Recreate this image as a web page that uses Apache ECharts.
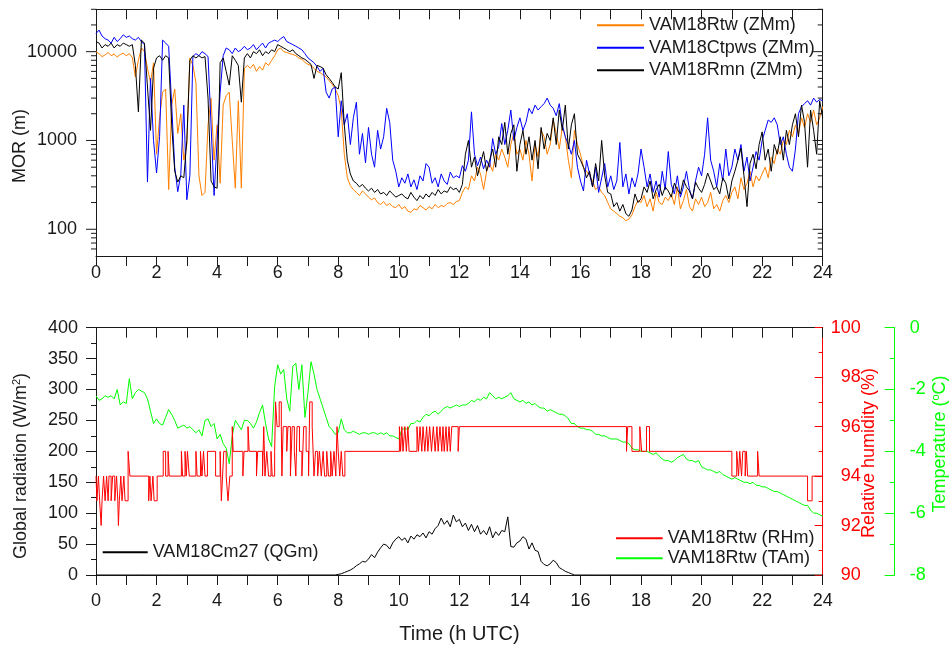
<!DOCTYPE html>
<html>
<head>
<meta charset="utf-8">
<script src="https://cdn.jsdelivr.net/npm/echarts@6/dist/echarts.min.js"></script>
<style>
html, body { margin: 0; padding: 0; background: #fff; }
#chart { width: 952px; height: 650px; }
</style>
</head>
<body>
<div id="chart"></div>
<script>
// Time stamps: one sample every 0.1 h over the day
const hours = Array.from({ length: 241 }, (_, i) => Math.round(i) / 10);

// Meteorological optical range (m), one row per hour
const morRtw = [
  10000, 9500, 8800, 9200, 9800, 9000, 9400, 8700, 9300, 9600,
  9000, 9500, 8600, 5200, 8000, 11000, 10000, 6500, 4500, 7500,
  700, 1800, 3500, 3800, 280, 2500, 3800, 1200, 2000, 600,
  900, 8500, 7000, 4500, 400, 240, 260, 1500, 3000, 600,
  1500, 330, 2500, 3200, 3500, 1000, 290, 2800, 290, 6500,
  7000, 6500, 7200, 6000, 6800, 6200, 7500, 7000, 8000, 9000,
  10500, 11000, 10000, 9800, 9500, 9300, 9000, 8500, 8200, 7600,
  7200, 7000, 6500, 6000, 5800, 5500, 5200, 4700, 4300, 3800,
  3200, 2200, 700, 380, 310, 280, 260, 240, 270, 250,
  230, 215, 225, 200, 190, 205, 185, 195, 180, 175,
  190, 170, 180, 160, 155, 170, 165, 185, 175, 165,
  180, 170, 190, 175, 185, 180, 195, 200, 190, 205,
  210, 260, 300, 280, 400, 350, 500, 420, 280, 450,
  550, 450, 700, 600, 800, 650, 500, 900, 1200, 700,
  800, 600, 1000, 700, 350, 900, 650, 1300, 1100, 700,
  900, 1700, 1200, 800, 1400, 1100, 600, 380, 1300, 900,
  700, 500, 450, 400, 350, 280, 300, 260, 240, 200,
  170, 160, 150, 140, 135, 125, 130, 145, 180, 210,
  200, 240, 180, 220, 160, 260, 200, 190, 230, 210,
  250, 190, 300, 170, 210, 280, 180, 160, 220, 190,
  230, 180, 200, 260, 170, 190, 160, 210, 240, 200,
  260, 300, 220, 380, 280, 330, 450, 300, 400, 350,
  420, 500, 380, 650, 550, 800, 700, 1000, 900, 1300,
  1100, 1500, 1200, 1800, 1400, 2000, 1600, 2200, 1500, 1800,
  2400
];

const morCtpws = [
  16000, 17500, 15000, 14000, 13500, 12500, 14500, 13000, 14000, 15500,
  14500, 15000, 14000, 13500, 14500, 13000, 12000, 340, 5000, 1000,
  430, 1100, 13500, 12500, 11500, 2500, 500, 265, 410, 2500,
  215, 400, 8800, 9500, 9000, 10000, 9500, 8800, 1500, 240,
  1000, 3500, 9000, 11000, 10500, 9500, 11000, 10000, 10500, 11500,
  10500, 11000, 12000, 10500, 11500, 12500, 11000, 12500, 13000, 13500,
  13000, 14000, 14800, 13000, 12500, 12000, 11500, 11000, 10500, 9500,
  8500, 8000, 7500, 6800, 6000, 6500, 3500, 3000, 3800, 4000,
  1100, 2800, 1500, 2000, 900, 1800, 2700, 700, 1200, 560,
  1400, 700, 500, 1300, 800, 1100, 2300, 1600, 600, 450,
  300, 380, 330, 420, 300, 360, 280, 400, 350, 550,
  500, 330, 380, 300, 420, 350, 320, 440, 380, 400,
  380, 520, 450, 600, 2100, 700, 520, 650, 480, 600,
  500, 1050, 700, 850, 1550, 900, 1300, 2200, 1000, 1400,
  1800, 1300, 1600, 2300, 2000, 2500, 2200, 2400, 2600, 3000,
  2500, 2300, 1900, 2600, 1500, 1100, 900, 700, 1000, 500,
  350, 270, 600, 420, 300, 500, 260, 380, 550, 300,
  400, 280, 350, 950, 300, 420, 250, 380, 300, 420,
  800, 500, 300, 420, 260, 350, 230, 450, 280, 750,
  320, 250, 400, 230, 300, 450, 280, 220, 350, 500,
  400, 700, 1800, 600, 450, 300, 550, 350, 800, 400,
  500, 800, 600, 900, 450, 650, 350, 500, 750, 600,
  1000, 1300, 1700, 1600, 1800, 1500, 900, 1100, 700, 500,
  450, 800, 2000, 2400, 2600, 2800, 2500, 3000, 2700, 2900,
  2800
];

const morRmn = [
  13000, 12500, 11000, 12000, 11500, 12500, 11000, 12000, 11500, 12500,
  12000, 11500, 12000, 7000, 2100, 13500, 12500, 4000, 1300, 6500,
  8500, 9000, 8000, 9000, 8500, 1500, 450, 340, 400, 380,
  1000, 8000, 9000, 8500, 9000, 8500, 8800, 3000, 350, 300,
  290, 7500, 8500, 6000, 4200, 9000, 8000, 7000, 2700, 8500,
  9500, 8500, 10000, 9500, 10500, 9000, 10000, 9500, 10500, 10000,
  12000, 11500, 11000, 10500, 10000, 10500, 9500, 9000, 8500, 8200,
  7700, 7200, 5000, 7000, 6800, 6500, 5500, 5000, 4500, 4000,
  3800, 5800, 1500, 600, 420, 350, 330, 300, 320, 290,
  270, 290, 260, 280, 250, 260, 240, 270, 250, 230,
  240, 250, 230, 220, 260, 230, 210, 240, 220, 250,
  230, 260, 240, 280, 250, 270, 260, 300, 280, 290,
  260, 320, 700, 1000, 500, 650, 400, 550, 750, 450,
  600, 800, 500, 1100, 900, 1600, 700, 1200, 1500, 450,
  900, 1300, 700, 1100, 600, 1000, 480, 1400, 800, 1200,
  1000, 1800, 900, 2200, 1300, 2500, 800, 1500, 2000, 700,
  600, 500, 380, 450, 300, 550, 350, 1000, 400, 260,
  250, 180, 200, 160, 190, 150, 140, 165, 250, 200,
  220, 300, 260, 350, 220, 280, 320, 240, 300, 270,
  230, 330, 280, 250, 360, 300, 270, 220, 340, 290,
  260, 320, 430, 350, 280, 300, 250, 380, 330, 220,
  350, 450, 600, 820, 400, 180, 550, 700, 480, 900,
  1250, 600, 800, 450, 900, 700, 1100, 600, 1300, 900,
  1500, 2000, 1100, 2500, 1600, 500, 2200, 1300, 700, 2800,
  1800
];

// Global radiation (W/m2)
const globalRad = [
  0, 0, 0, 0, 0, 0, 0, 0, 0, 0,
  0, 0, 0, 0, 0, 0, 0, 0, 0, 0,
  0, 0, 0, 0, 0, 0, 0, 0, 0, 0,
  0, 0, 0, 0, 0, 0, 0, 0, 0, 0,
  0, 0, 0, 0, 0, 0, 0, 0, 0, 0,
  0, 0, 0, 0, 0, 0, 0, 0, 0, 0,
  0, 0, 0, 0, 0, 0, 0, 0, 0, 0,
  0, 0, 0, 0, 0, 0, 0, 0, 0, 0,
  1, 2, 4, 6, 8, 11, 15, 18, 22, 21,
  26, 33, 28, 37, 44, 50, 48, 42, 52, 58,
  62, 56, 60, 52, 63, 58, 65, 62, 68, 60,
  70, 66, 75, 80, 92, 82, 88, 78, 97, 86,
  90, 78, 84, 72, 82, 70, 80, 66, 72, 65,
  78, 60, 70, 64, 72, 70, 94, 46, 45, 52,
  55, 62, 58, 42, 52, 40, 38, 22, 17, 15,
  18, 24, 20, 12, 9, 6, 4, 2, 0, 0,
  0, 0, 0, 0, 0, 0, 0, 0, 0, 0,
  0, 0, 0, 0, 0, 0, 0, 0, 0, 0,
  0, 0, 0, 0, 0, 0, 0, 0, 0, 0,
  0, 0, 0, 0, 0, 0, 0, 0, 0, 0,
  0, 0, 0, 0, 0, 0, 0, 0, 0, 0,
  0, 0, 0, 0, 0, 0, 0, 0, 0, 0,
  0, 0, 0, 0, 0, 0, 0, 0, 0, 0,
  0, 0, 0, 0, 0, 0, 0, 0, 0, 0,
  0
];

// Air temperature (degC)
const airTemp = [
  -2.2, -2.35, -2.3, -2.2, -2.25, -2.2, -2.3, -2.0, -2.5, -2.4,
  -2.45, -1.65, -2.3, -2.1, -2.0, -2.05, -2.1, -2.3, -2.7, -3.1,
  -2.95, -3.1, -3.15, -2.9, -2.65, -2.8, -3.0, -3.25, -3.2, -3.15,
  -3.25, -3.2, -3.3, -3.4, -3.3, -3.5, -3.0, -2.95, -3.2, -3.1,
  -3.6, -3.45, -3.75, -3.9, -4.4, -3.5, -3.0, -3.15, -3.3, -3.0,
  -3.0, -3.1, -3.25, -3.05, -2.75, -2.5, -3.1, -3.6, -3.85, -1.9,
  -1.2, -1.5, -1.35, -2.3, -2.7, -1.25, -1.15, -2.0, -1.2, -2.9,
  -2.1, -1.1, -1.5, -2.0, -2.3, -2.6, -2.9, -3.2, -3.3, -3.45,
  -3.4, -2.95, -3.3, -3.4, -3.4, -3.35, -3.4, -3.45, -3.4, -3.4,
  -3.45, -3.4, -3.4, -3.45, -3.4, -3.45, -3.4, -3.5, -3.5, -3.55,
  -3.6, -3.3, -3.25, -3.3, -3.1, -3.1, -3.0, -3.05, -2.9, -2.8,
  -2.85, -2.75, -2.7, -2.8, -2.7, -2.6, -2.55, -2.6, -2.55, -2.5,
  -2.55, -2.5, -2.5, -2.45, -2.35, -2.4, -2.3, -2.35, -2.25, -2.3,
  -2.1, -2.2, -2.3, -2.25, -2.3, -2.25, -2.2, -2.1, -2.3, -2.35,
  -2.4, -2.35, -2.45, -2.4, -2.5, -2.45, -2.55, -2.6, -2.6, -2.7,
  -2.65, -2.7, -2.75, -2.8, -2.8, -2.85, -2.95, -3.1, -3.1, -3.2,
  -3.25, -3.25, -3.3, -3.3, -3.35, -3.45, -3.45, -3.5, -3.5, -3.55,
  -3.6, -3.6, -3.6, -3.65, -3.7, -3.7, -3.75, -3.9, -3.95, -3.95,
  -4.0, -4.0, -4.0, -4.05, -4.1, -4.05, -4.15, -4.25, -4.3, -4.3,
  -4.35, -4.3, -4.2, -4.15, -4.1, -4.25, -4.3, -4.3, -4.35, -4.3,
  -4.5, -4.55, -4.6, -4.6, -4.65, -4.7, -4.65, -4.75, -4.8, -4.85,
  -4.9, -4.85, -4.9, -4.95, -5.0, -5.0, -5.05, -5.0, -5.1, -5.1,
  -5.15, -5.15, -5.2, -5.25, -5.3, -5.3, -5.35, -5.4, -5.45, -5.5,
  -5.55, -5.6, -5.65, -5.7, -5.75, -5.75, -5.9, -6.0, -6.0, -6.05,
  -6.1
];

// Relative humidity (%), as [time of change, new value]
const rhChanges = [
  [0.00, 94], [0.03, 93], [0.08, 94], [0.12, 93], [0.17, 92], [0.20, 93], [0.25, 94], [0.30, 93],
  [0.35, 94], [0.40, 93], [0.43, 94], [0.50, 93], [0.55, 94], [0.62, 93], [0.68, 94], [0.72, 93],
  [0.74, 92], [0.77, 93], [0.82, 94], [0.86, 93], [0.92, 94], [0.96, 93], [1.06, 95], [1.12, 94],
  [1.74, 93], [1.78, 94], [1.82, 93], [1.88, 94], [1.92, 93], [2.02, 94], [2.22, 95], [2.30, 94],
  [2.38, 95], [2.42, 94], [2.82, 95], [2.86, 94], [2.94, 95], [2.98, 94], [3.02, 95], [3.08, 94],
  [3.30, 95], [3.34, 94], [3.45, 95], [3.50, 94], [3.55, 95], [3.60, 94], [3.68, 95], [3.95, 94],
  [4.10, 95], [4.14, 93], [4.18, 94], [4.22, 95], [4.30, 94], [4.36, 93], [4.42, 94], [4.50, 96],
  [4.53, 95], [4.85, 94], [4.89, 95], [5.02, 96], [5.06, 95], [5.30, 94], [5.34, 95], [5.50, 94],
  [5.54, 96], [5.58, 94], [5.64, 95], [5.70, 94], [5.78, 95], [5.82, 94], [5.90, 95], [5.93, 97],
  [5.98, 96], [6.05, 97], [6.12, 96], [6.14, 94], [6.18, 96], [6.30, 95], [6.34, 96], [6.42, 94],
  [6.48, 96], [6.55, 95], [6.60, 94], [6.64, 96], [6.72, 95], [6.80, 94], [6.86, 96], [6.94, 95],
  [7.02, 94], [7.06, 97], [7.14, 96], [7.20, 94], [7.25, 95], [7.32, 94], [7.38, 95], [7.44, 94],
  [7.50, 95], [7.55, 94], [7.62, 95], [7.68, 94], [7.75, 95], [7.80, 94], [7.86, 95], [7.92, 94],
  [7.96, 96], [8.00, 95], [8.05, 94], [8.10, 95], [8.15, 94], [8.22, 95], [10.02, 96], [10.06, 95],
  [10.10, 96], [10.14, 95], [10.20, 96], [10.25, 95], [10.30, 96], [10.34, 95], [10.60, 96], [10.65, 95],
  [10.70, 96], [10.76, 95], [10.80, 96], [10.86, 95], [10.92, 96], [10.96, 95], [11.02, 96], [11.08, 95],
  [11.14, 96], [11.20, 95], [11.26, 96], [11.30, 95], [11.36, 96], [11.42, 95], [11.46, 96], [11.50, 95],
  [11.56, 96], [11.60, 95], [11.66, 96], [11.70, 95], [11.75, 96], [11.96, 95], [12.00, 96], [17.52, 95],
  [17.56, 96], [17.70, 95], [17.96, 96], [18.02, 95], [18.18, 96], [18.28, 95], [21.00, 94], [21.16, 95],
  [21.22, 94], [21.26, 95], [21.32, 94], [21.36, 95], [21.44, 94], [21.48, 95], [21.52, 94], [21.85, 95],
  [21.90, 94], [23.50, 93], [23.65, 94], [24.00, 94]
];

// Tick marks of the logarithmic MOR axis
const morMajorTicks = [100, 1000, 10000];
const morMinorTicks = [60, 70, 80, 90, 200, 300, 400, 500, 600, 700, 800, 900,
  2000, 3000, 4000, 5000, 6000, 7000, 8000, 9000, 20000, 30000];

const FONT = '"Liberation Sans", Arial, Helvetica, sans-serif';
const INK = '#1a1a1a';
const RED = '#ff0000';
const GREEN = '#00ff00';

const withTime = vals => vals.map((v, i) => [hours[i], v]);

const lineSt = { color: INK, width: 1 };
const labelBase = { fontSize: 18, fontFamily: FONT, color: INK };

function timeAxis(grid, pos, showLabels, margin) {
  return {
    gridIndex: grid, type: 'value', position: pos, min: 0, max: 24, interval: 1,
    axisLine: { show: true, onZero: false, lineStyle: lineSt },
    axisTick: { show: true, inside: pos === 'top', length: 10, lineStyle: lineSt },
    axisLabel: Object.assign({ show: showLabels, margin: margin,
      formatter: v => (v % 2 === 0 ? String(v) : '') }, labelBase),
    splitLine: { show: false }
  };
}

// Legend entries show only the line sample, no marker
function legendBlock(names, left, top, itemWidth, itemGap) {
  return {
    data: names, orient: 'vertical', left: left, top: top, padding: 0, itemGap: itemGap,
    itemWidth: itemWidth, itemHeight: 20, selectedMode: false,
    itemStyle: { opacity: 0 },
    textStyle: { fontSize: 18, lineHeight: 20, fontFamily: FONT, color: INK }
  };
}

const chart = echarts.init(document.getElementById('chart'), null, { renderer: 'canvas' });

const option = {
  backgroundColor: '#ffffff',
  animation: false,
  textStyle: { fontFamily: FONT },
  grid: [
    { left: 96, top: 9.3, width: 726.7, height: 246.7, containLabel: false },
    { left: 96, top: 327.7, width: 726.7, height: 247.3, containLabel: false }
  ],
  xAxis: [
    timeAxis(0, 'bottom', true, 8),
    timeAxis(0, 'top', false, 8),
    timeAxis(1, 'bottom', true, 17),
    timeAxis(1, 'top', false, 8)
  ],
  yAxis: [
    {
      gridIndex: 0, type: 'log', logBase: 10, min: 50, max: 30000, position: 'left',
      axisLine: { show: true, onZero: false, lineStyle: lineSt },
      axisTick: { show: false },
      axisLabel: Object.assign({ margin: 19, showMinLabel: false, showMaxLabel: false,
        formatter: v => String(Math.round(v)) }, labelBase),
      splitLine: { show: false }
    },
    {
      gridIndex: 0, type: 'log', logBase: 10, min: 50, max: 30000, position: 'right',
      axisLine: { show: true, onZero: false, lineStyle: lineSt },
      axisTick: { show: false }, axisLabel: { show: false }, splitLine: { show: false }
    },
    {
      gridIndex: 1, type: 'value', min: 0, max: 400, interval: 50, position: 'left',
      axisLine: { show: true, onZero: false, lineStyle: lineSt },
      axisTick: { show: true, length: 10, lineStyle: lineSt },
      minorTick: { show: true, splitNumber: 2, length: 5, lineStyle: lineSt },
      axisLabel: Object.assign({ margin: 18 }, labelBase),
      splitLine: { show: false }
    },
    {
      gridIndex: 1, type: 'value', min: 90, max: 100, interval: 2, position: 'right',
      axisLine: { show: true, onZero: false, lineStyle: { color: RED, width: 1 } },
      axisTick: { show: true, inside: true, length: 8, lineStyle: { color: RED, width: 1 } },
      minorTick: { show: true, splitNumber: 2, length: 4, lineStyle: { color: RED, width: 1 } },
      axisLabel: { margin: 38, align: 'right', fontSize: 18, fontFamily: FONT, color: RED },
      splitLine: { show: false }
    },
    {
      gridIndex: 1, type: 'value', min: -8, max: 0, interval: 2, position: 'right', offset: 72,
      axisLine: { show: true, onZero: false, lineStyle: { color: GREEN, width: 1 } },
      axisTick: { show: true, inside: true, length: 10, lineStyle: { color: GREEN, width: 1 } },
      minorTick: { show: true, splitNumber: 2, length: 5, lineStyle: { color: GREEN, width: 1 } },
      axisLabel: { margin: 15, fontSize: 18, fontFamily: FONT, color: GREEN },
      splitLine: { show: false }
    }
  ],
  legend: [
    legendBlock(['VAM18Rtw (ZMm)', 'VAM18Ctpws (ZMm)', 'VAM18Rmn (ZMm)'], 596, 15.3, 47, 2.5),
    legendBlock(['VAM18Cm27 (QGm)'], 101.7, 542.3, 45, 0),
    legendBlock(['VAM18Rtw (RHm)', 'VAM18Rtw (TAm)'], 615, 528.3, 46.7, 0)
  ],
  graphic: [
    {
      type: 'text', x: 20, y: 146, rotation: Math.PI / 2,
      style: { text: 'MOR (m)', fontSize: 18, fontFamily: FONT, fill: INK,
        align: 'center', verticalAlign: 'middle' }
    },
    {
      type: 'text', x: 21, y: 466, rotation: Math.PI / 2,
      style: { text: 'Global radiation (W/m{sup|2})', fontSize: 18, fontFamily: FONT, fill: INK,
        align: 'center', verticalAlign: 'middle', lineHeight: 20,
        rich: { sup: { fontSize: 11, fontFamily: FONT, fill: INK, verticalAlign: 'top', lineHeight: 20 } } }
    },
    {
      type: 'text', x: 869, y: 453, rotation: Math.PI / 2,
      style: { text: 'Relative humidity (%)', fontSize: 18, fontFamily: FONT, fill: RED,
        align: 'center', verticalAlign: 'middle' }
    },
    {
      type: 'text', x: 940, y: 444, rotation: Math.PI / 2,
      style: { text: 'Temperature ({sup|o}C)', fontSize: 18, fontFamily: FONT, fill: GREEN,
        align: 'center', verticalAlign: 'middle', lineHeight: 20,
        rich: { sup: { fontSize: 11, fontFamily: FONT, fill: GREEN, verticalAlign: 'top', lineHeight: 20 } } }
    },
    {
      type: 'text', x: 459.5, y: 634,
      style: { text: 'Time (h UTC)', fontSize: 20, fontFamily: FONT, fill: INK,
        align: 'center', verticalAlign: 'middle' }
    }
  ],
  series: [
    {
      name: 'VAM18Rtw (ZMm)', type: 'line', xAxisIndex: 0, yAxisIndex: 0,
      data: withTime(morRtw), symbol: 'none', showSymbol: false, color: '#ff8000',
      lineStyle: { width: 1, color: '#ff8000' }
    },
    {
      name: 'VAM18Ctpws (ZMm)', type: 'line', xAxisIndex: 0, yAxisIndex: 0,
      data: withTime(morCtpws), symbol: 'none', showSymbol: false, color: '#0000ff',
      lineStyle: { width: 1, color: '#0000ff' }
    },
    {
      name: 'VAM18Rmn (ZMm)', type: 'line', xAxisIndex: 0, yAxisIndex: 0,
      data: withTime(morRmn), symbol: 'none', showSymbol: false, color: '#000000',
      lineStyle: { width: 1, color: '#000000' }
    },
    {
      // Tick marks of the log axis on both sides of the upper frame
      type: 'custom', xAxisIndex: 0, yAxisIndex: 0, silent: true, clip: false, z: 5,
      data: morMajorTicks.map(v => [0, v, 10]).concat(morMinorTicks.map(v => [0, v, 5])),
      encode: { x: 0, y: 1 },
      renderItem: (params, api) => {
        const y = api.coord([0, api.value(1)])[1];
        const len = api.value(2);
        const cs = params.coordSys;
        const st = { stroke: INK, lineWidth: 1 };
        return {
          type: 'group',
          children: [
            { type: 'line', shape: { x1: cs.x - len, y1: y, x2: cs.x, y2: y }, style: st },
            { type: 'line', shape: { x1: cs.x + cs.width - len, y1: y, x2: cs.x + cs.width, y2: y }, style: st }
          ]
        };
      }
    },
    {
      name: 'VAM18Cm27 (QGm)', type: 'line', xAxisIndex: 2, yAxisIndex: 2,
      data: withTime(globalRad), symbol: 'none', showSymbol: false, color: '#000000',
      lineStyle: { width: 1, color: '#000000' }
    },
    {
      name: 'VAM18Rtw (TAm)', type: 'line', xAxisIndex: 2, yAxisIndex: 4,
      data: withTime(airTemp), symbol: 'none', showSymbol: false, color: GREEN,
      lineStyle: { width: 1, color: GREEN }
    },
    {
      name: 'VAM18Rtw (RHm)', type: 'line', xAxisIndex: 2, yAxisIndex: 3, step: 'end',
      data: rhChanges, symbol: 'none', showSymbol: false, color: RED,
      lineStyle: { width: 1, color: RED }
    }
  ]
};

chart.setOption(option);
</script>
</body>
</html>
